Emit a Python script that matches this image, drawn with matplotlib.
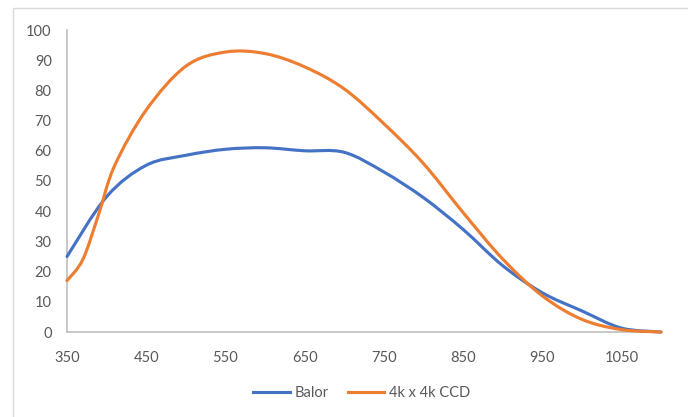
import matplotlib
matplotlib.use("Agg")
import matplotlib.pyplot as plt
from matplotlib.path import Path
from matplotlib.patches import PathPatch, Rectangle
from matplotlib.lines import Line2D

wavelength_balor = [350, 400, 450, 500, 550, 600, 650, 700, 750, 800, 850, 900, 950, 1000, 1050, 1100]
balor = [25, 44.8, 55.2, 58.5, 60.5, 61, 60, 59.5, 53, 44.5, 34, 22, 13, 7, 1.3, 0]

wavelength_ccd = [350, 370, 390, 410, 450, 500, 550, 600, 650, 700, 750, 800, 850, 900, 950, 1000, 1050, 1100]
ccd = [17, 24, 39, 55, 73.5, 88, 92.7, 92.2, 87.8, 80.5, 69, 55.8, 39.6, 24.2, 12, 4.2, 0.8, 0]

x_ticks = [350, 450, 550, 650, 750, 850, 950, 1050]
y_ticks = list(range(0, 101, 10))
series_names = ["Balor", "4k x 4k CCD"]
colors = ["#4472C4", "#ED7D31"]


def smooth_path(xs, ys):
    # Excel-style smoothed line: cubic Bezier segments (Catmull-Rom control points)
    verts = [(xs[0], ys[0])]
    codes = [Path.MOVETO]
    n = len(xs)
    for i in range(n - 1):
        x0, y0 = (xs[i - 1], ys[i - 1]) if i > 0 else (xs[i], ys[i])
        x1, y1 = xs[i], ys[i]
        x2, y2 = xs[i + 1], ys[i + 1]
        x3, y3 = (xs[i + 2], ys[i + 2]) if i + 2 < n else (xs[i + 1], ys[i + 1])
        c1 = (x1 + (x2 - x0) / 6.0, y1 + (y2 - y0) / 6.0)
        c2 = (x2 - (x3 - x1) / 6.0, y2 - (y3 - y1) / 6.0)
        verts += [c1, c2, (x2, y2)]
        codes += [Path.CURVE4, Path.CURVE4, Path.CURVE4]
    return Path(verts, codes)


fig = plt.figure(figsize=(6.88, 4.17), dpi=100)
plt.rcParams['font.family'] = ['Lato', 'DejaVu Sans']

# chart area border
fig.patches.append(Rectangle((13 / 688, -0.1), 1.2, (417 - 8) / 417 + 0.1,
                             transform=fig.transFigure, fill=False,
                             edgecolor="#D9D9D9", linewidth=1.0))

ax = fig.add_axes([67 / 688, (417 - 332) / 417, (661 - 67) / 688, (332 - 30) / 417])
ax.set_xlim(350, 1100)
ax.set_ylim(0, 100)

for xs, ys, c in [(wavelength_balor, balor, colors[0]), (wavelength_ccd, ccd, colors[1])]:
    p = PathPatch(smooth_path(xs, ys), facecolor="none", edgecolor=c,
                  linewidth=2.25, transform=ax.transData, capstyle="round",
                  joinstyle="round", clip_on=False, zorder=3)
    ax.add_patch(p)

ax.set_xticks(x_ticks)
ax.set_yticks(y_ticks)
ax.tick_params(axis="both", length=0, labelsize=10.5, colors="#595959")
ax.tick_params(axis="x", pad=14)
ax.tick_params(axis="y", pad=11)
for s in ["top", "right"]:
    ax.spines[s].set_visible(False)
for s in ["left", "bottom"]:
    ax.spines[s].set_color("#BFBFBF")
    ax.spines[s].set_linewidth(1.2)

handles = [Line2D([], [], color=c, linewidth=2.25) for c in colors]
leg = fig.legend(handles, series_names, loc="center", bbox_to_anchor=(362 / 688, (417 - 393) / 417),
                 ncol=2, frameon=False, fontsize=10.5, handlelength=2.5, handletextpad=0.35,
                 columnspacing=1.3)
for t in leg.get_texts():
    t.set_color("#595959")

fig.savefig("out.png", dpi=100)
